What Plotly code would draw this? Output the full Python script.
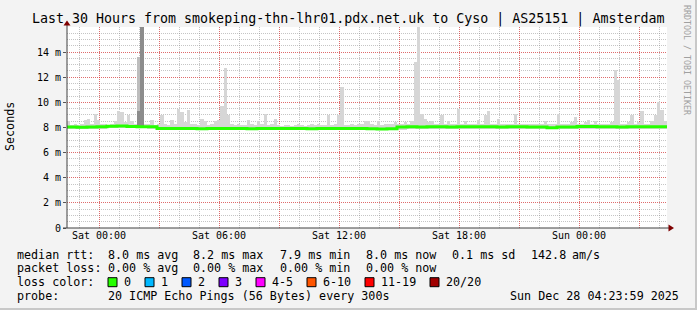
import plotly.graph_objects as go
from datetime import datetime, timedelta

# ---------------- data ----------------
TITLE = "Last 30 Hours from smokeping-thn-lhr01.pdx.net.uk to Cyso | AS25151 | Amsterdam"
START = datetime(2025, 12, 26, 22, 24)
SPAN_HOURS = 30
BIN_MIN = 10          # smoke resolution (minutes)
MED_MIN = 30          # median resolution (minutes)

# upper edge of the smoke (ms), one value per 10-minute bin
smoke_hi = [
    8.5, 8.2, 8.3, 8.2, 8.25, 8.6, 8.7, 8.3, 9.1, 8.6, 8.25, 8.3, 8.2, 8.3, 8.5, 9.3, 9.2, 8.4,
    9.0, 8.5, 8.3, 13.6, 16.2, 8.3, 8.25, 8.6, 8.2, 8.25, 9.0, 8.3, 8.2, 8.6, 8.3, 9.5, 9.2, 8.4,
    9.4, 8.25, 8.3, 8.2, 8.7, 8.5, 8.2, 8.3, 8.5, 8.6, 9.7, 12.7, 9.0, 8.3, 8.2, 8.25, 8.2, 8.2,
    8.6, 8.3, 8.2, 8.5, 8.25, 9.1, 8.2, 8.25, 8.7, 8.2, 8.15, 8.2, 8.2, 8.15, 8.2, 8.3, 8.2, 8.15,
    8.2, 8.3, 8.2, 8.3, 8.2, 8.2, 9.0, 8.2, 8.25, 9.0, 11.2, 8.2, 8.2, 8.25, 8.2, 8.3, 8.3, 8.5,
    8.5, 8.3, 8.2, 8.5, 8.2, 8.3, 8.3, 8.3, 8.4, 8.3, 8.3, 8.4, 8.3, 8.5, 13.2, 16.2, 9.1, 8.7,
    8.4, 8.5, 8.3, 8.3, 9.0, 8.3, 8.5, 8.3, 8.3, 9.5, 8.3, 8.5, 8.3, 8.3, 8.25, 8.6, 8.3, 9.0,
    9.3, 8.3, 8.3, 8.7, 8.3, 8.3, 8.25, 8.3, 9.1, 8.3, 8.3, 8.3, 8.3, 8.25, 8.3, 8.25, 8.3, 8.5,
    8.3, 8.25, 8.3, 9.1, 8.3, 8.25, 8.3, 8.4, 8.8, 8.3, 8.3, 8.4, 8.6, 8.3, 8.5, 8.3, 8.3, 8.3,
    8.3, 8.4, 12.6, 11.8, 8.3, 8.3, 8.4, 9.0, 8.3, 8.4, 9.3, 8.3, 8.3, 8.5, 9.0, 10.0, 9.4, 8.5,
]
# lower edge of the smoke (ms), one value per hour
smoke_lo_hourly = [
    7.90, 7.92, 7.95, 7.95, 7.90, 7.80, 7.80, 7.80, 7.80, 7.80,
    7.80, 7.80, 7.80, 7.80, 7.80, 7.80, 7.80, 7.90, 7.90, 7.90,
    7.90, 7.90, 7.90, 7.90, 7.88, 7.90, 7.90, 7.90, 7.90, 7.90,
]
# darker core of the big spikes
mid_bins = [21]
mid_top = [13.6]
dark_bins = [21, 22]
dark_top = [9.3, 16.2]

# median rtt (ms), one value per 30 minutes
median_rtt = [
    8.03, 8.02, 8.04, 8.05, 8.10, 8.11, 8.07, 8.06, 8.05,
    7.93, 7.92, 7.93, 7.92, 7.91, 7.92, 7.92, 7.93, 7.92, 7.91, 7.92, 7.92,
    7.93, 7.92, 7.92, 7.91, 7.92, 7.92, 7.93, 7.92, 7.92, 7.91, 7.88, 7.90,
    8.04, 8.05, 8.04, 8.05, 8.06, 8.04, 8.05, 8.05, 8.06, 8.05, 8.04, 8.05,
    8.05, 8.04, 8.03, 7.98, 8.03, 8.04, 8.08, 8.08, 8.06, 8.05, 8.04, 8.05,
    8.05, 8.05, 8.05,
]

y_tick_vals = [0, 2, 4, 6, 8, 10, 12, 14]
y_tick_text = ["0", "2 m", "4 m", "6 m", "8 m", "10 m", "12 m", "14 m"]
x_tick_text = ["Sat 00:00", "", "Sat 06:00", "", "Sat 12:00", "", "Sat 18:00", "", "Sun 00:00", ""]
x_tick_first = datetime(2025, 12, 27, 0, 0)

rtt_row = ["median rtt:", "8.0 ms avg", "8.2 ms max", "7.9 ms min", "8.0 ms now", "0.1 ms sd", "142.8", "am/s"]
loss_row = ["packet loss:", "0.00 % avg", "0.00 % max", "0.00 % min", "0.00 % now"]
loss_labels = ["0", "1", "2", "3", "4-5", "6-10", "11-19", "20/20"]
loss_colors = ["#26ff00", "#00b8ff", "#0059ff", "#7e00ff", "#ff00ff", "#ff5500", "#ff0000", "#a10000"]
probe_text = "20 ICMP Echo Pings (56 Bytes) every 300s"
stamp_text = "Sun Dec 28 04:23:59 2025"
watermark = "RRDTOOL / TOBI OETIKER"

# ---------------- geometry (pixels) ----------------
W, H = 697, 310
PL, PR, PT, PB = 67, 667, 27, 228
MONO = "DejaVu Sans Mono"
FS = 11.7


def px(x):
    return (x - PL) / (PR - PL)


def py(y):
    return (PB - y) / (PB - PT)


bin_w = timedelta(minutes=BIN_MIN)
bin_centers = [START + bin_w * (i + 0.5) for i in range(len(smoke_hi))]
smoke_lo = [smoke_lo_hourly[i * BIN_MIN // 60] for i in range(len(smoke_hi))]
bin_ms = BIN_MIN * 60 * 1000

fig = go.Figure()

fig.add_trace(go.Bar(
    x=bin_centers, y=[h - l for h, l in zip(smoke_hi, smoke_lo)], base=smoke_lo,
    width=bin_ms, marker=dict(color="#d6d6d6", line=dict(width=0)), hoverinfo="skip",
))
fig.add_trace(go.Bar(
    x=[bin_centers[b] for b in mid_bins], y=[t - smoke_lo[b] for b, t in zip(mid_bins, mid_top)],
    base=[smoke_lo[b] for b in mid_bins], width=bin_ms,
    marker=dict(color="#bdbdbd", line=dict(width=0)), hoverinfo="skip",
))
fig.add_trace(go.Bar(
    x=[bin_centers[b] for b in dark_bins], y=[t - smoke_lo[b] for b, t in zip(dark_bins, dark_top)],
    base=[smoke_lo[b] for b in dark_bins], width=bin_ms,
    marker=dict(color="#8c8c8c", line=dict(width=0)), hoverinfo="skip",
))

med_step = timedelta(minutes=MED_MIN)
med_x = [START + med_step * i for i in range(len(median_rtt) + 1)]
med_y = median_rtt + [median_rtt[-1]]
fig.add_trace(go.Scatter(
    x=med_x, y=med_y, mode="lines", line=dict(color="#26ff00", width=3, shape="hv"),
    hoverinfo="skip",
))

grid_minor = "rgba(140,140,140,0.5)"
grid_major = "rgba(255,0,0,0.45)"

x_ticks = [x_tick_first + timedelta(hours=3 * i) for i in range(len(x_tick_text))]
fig.update_layout(
    width=W, height=H,
    margin=dict(l=PL, r=W - PR, t=PT, b=H - PB, pad=0),
    paper_bgcolor="#f3f3f3", plot_bgcolor="#ffffff",
    showlegend=False, barmode="overlay", bargap=0,
    font=dict(family=MONO, size=10, color="#000000"),
    xaxis=dict(
        type="date", range=[START, START + timedelta(hours=SPAN_HOURS)],
        tickmode="array", tickvals=x_ticks, ticktext=x_tick_text,
        showgrid=True, gridcolor=grid_major, griddash="1px,1px", gridwidth=1,
        ticks="", showline=False, zeroline=False,
        tickfont=dict(family=MONO, size=10),
        minor=dict(tick0=x_tick_first, dtick=3600000, showgrid=True,
                   gridcolor=grid_minor, griddash="1px,1px", gridwidth=1, ticks=""),
        fixedrange=True,
    ),
    yaxis=dict(
        range=[0, 16], tickmode="array", tickvals=y_tick_vals, ticktext=y_tick_text,
        showgrid=True, gridcolor=grid_major, griddash="1px,1px", gridwidth=1,
        ticks="outside", ticklen=3, tickcolor="#555555", showline=False, zeroline=False,
        tickfont=dict(family=MONO, size=10),
        minor=dict(dtick=0.5, showgrid=True, gridcolor=grid_minor, griddash="1px,1px",
                   gridwidth=1, ticks=""),
        fixedrange=True,
    ),
)

shapes = []
# axis lines
shapes.append(dict(type="line", xref="paper", yref="paper", x0=px(PL), x1=px(PL), y0=py(PB), y1=py(24),
                   line=dict(color="#404040", width=1)))
shapes.append(dict(type="line", xref="paper", yref="paper", x0=px(63), x1=px(670), y0=py(PB), y1=py(PB),
                   line=dict(color="#404040", width=1)))
# arrows
shapes.append(dict(type="path", xref="paper", yref="paper",
                   path=f"M {px(63.5)},{py(25.5)} L {px(70.5)},{py(25.5)} L {px(67)},{py(20.5)} Z",
                   fillcolor="#7f0000", line=dict(width=0)))
shapes.append(dict(type="path", xref="paper", yref="paper",
                   path=f"M {px(668.5)},{py(224.5)} L {px(668.5)},{py(231.5)} L {px(674)},{py(228)} Z",
                   fillcolor="#7f0000", line=dict(width=0)))
# frame of the image
shapes.append(dict(type="rect", xref="paper", yref="paper", x0=px(0), x1=px(W), y0=py(H), y1=py(H - 2),
                   fillcolor="#c8c8c8", line=dict(width=0), layer="above"))
shapes.append(dict(type="rect", xref="paper", yref="paper", x0=px(W - 2), x1=px(W), y0=py(H), y1=py(0),
                   fillcolor="#c8c8c8", line=dict(width=0), layer="above"))
# loss colour boxes
box_x = [108, 145, 182, 219, 256, 307, 365, 430]
row_y = [254.6, 268.4, 282.2, 296.0]
for bx, col in zip(box_x, loss_colors):
    shapes.append(dict(type="rect", xref="paper", yref="paper",
                       x0=px(bx), x1=px(bx + 9), y0=py(row_y[2] + 4.5), y1=py(row_y[2] - 4.5),
                       fillcolor=col, line=dict(color="#000000", width=1)))
fig.update_layout(shapes=shapes)

ann = []


def text(s, x, y, anchor="left", size=FS, angle=0, color="#000000"):
    ann.append(dict(text=s, x=px(x), y=py(y), xref="paper", yref="paper", xanchor=anchor,
                    yanchor="middle", showarrow=False, textangle=angle,
                    font=dict(family=MONO, size=size, color=color), borderpad=0))


text(TITLE, 348, 19, anchor="center", size=13.3)
text("Seconds", 10, 127, anchor="center", angle=-90)
text(watermark, 687, 60, anchor="center", size=8.3, angle=90, color="#a0a0a0")

rtt_x = [16, 107, 192, 279, 365, 451, 530, 571]
for s, x in zip(rtt_row, rtt_x):
    text(s, x, row_y[0])
loss_x = [16, 107, 192, 279, 365]
for s, x in zip(loss_row, loss_x):
    text(s, x, row_y[1])
text("loss color:", 16, row_y[2])
for s, bx in zip(loss_labels, box_x):
    text(s, bx + 15, row_y[2])
text("probe:", 16, row_y[3])
text(probe_text, 107, row_y[3])
text(stamp_text, 680, row_y[3], anchor="right")

fig.update_layout(annotations=ann)
fig.write_html("out.html")
